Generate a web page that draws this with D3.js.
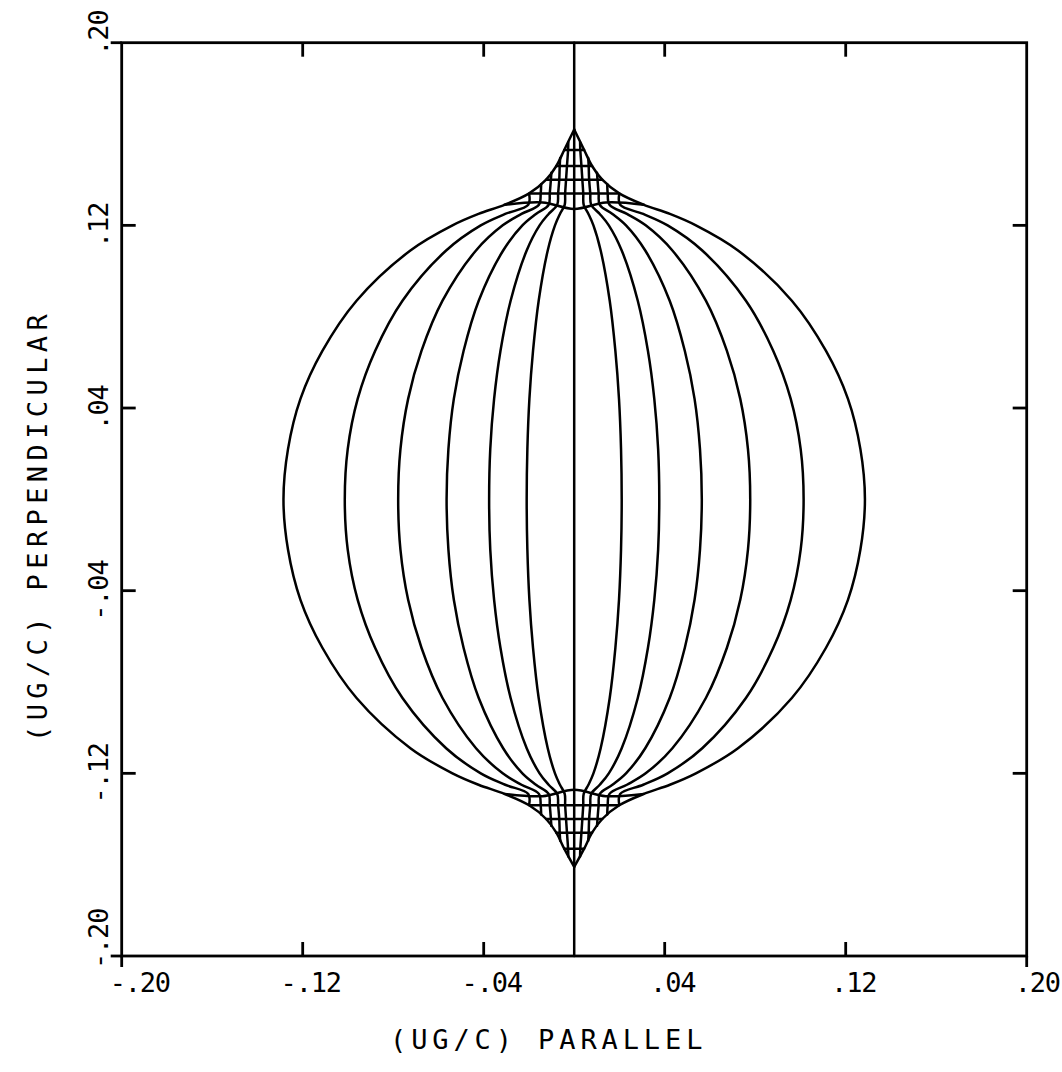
<!DOCTYPE html>
<html>
<head>
<meta charset="utf-8">
<script src="https://cdn.jsdelivr.net/npm/d3@7"></script>
<style>
  body { margin: 0; background: #fff; }
  text { font-family: "DejaVu Sans Mono", "Liberation Mono", monospace; fill: #000; }
</style>
</head>
<body>
<svg id="chart" width="1062" height="1072"></svg>
<script>
// Meridians of the group-velocity surface: perpendicular level (Y) and parallel
// half-width (X) along each one, top to bottom. Meridian 1 is the outer rim,
// which runs along the cusp edges up to the tips; the inner ones stop on the cusp edges.
const m1Y = [0.162, 0.153, 0.146, 0.140, 0.134, 0.129, 0.125, 0.120, 0.109, 0.087, 0.065, 0.044, 0.022, 0,
  -0.022, -0.044, -0.065, -0.087, -0.109, -0.120, -0.125, -0.129, -0.134, -0.140, -0.146, -0.153, -0.161];
const m1X = [0, .0044, .0079, .0124, .0199, .0308, .0423, .0538, .0724, .0962, .1113, .1210, .1265, .1285,
  .1265, .1210, .1113, .0962, .0724, .0538, .0423, .0308, .0199, .0124, .0079, .0044, 0];

const m2Y = [0.1336, 0.129, 0.125, 0.120, 0.109, 0.087, 0.065, 0.044, 0.022, 0,
  -0.022, -0.044, -0.065, -0.087, -0.109, -0.120, -0.125, -0.129, -0.1336];
const m2X = [.0199, .0203, .0305, .0413, .0566, .0759, .0880, .0957, .1001, .1014,
  .1001, .0957, .0880, .0759, .0566, .0413, .0305, .0203, .0199];

const m3Y = [0.138, 0.134, 0.129, 0.125, 0.120, 0.109, 0.087, 0.065, 0.044, 0.022, 0,
  -0.022, -0.044, -0.065, -0.087, -0.109, -0.120, -0.125, -0.129, -0.134, -0.138];
const m3X = [.0146, .0148, .0156, .0233, .0316, .0434, .0582, .0675, .0734, .0768, .0778,
  .0768, .0734, .0675, .0582, .0434, .0316, .0233, .0156, .0148, .0146];

const m4Y = [0.143, 0.140, 0.134, 0.129, 0.125, 0.120, 0.109, 0.087, 0.065, 0.044, 0.022, 0,
  -0.022, -0.044, -0.065, -0.087, -0.109, -0.120, -0.125, -0.129, -0.134, -0.140, -0.143];
const m4X = [.0101, .0103, .0108, .0113, .0169, .0229, .0314, .0422, .0489, .0532, .0556, .0564,
  .0556, .0532, .0489, .0422, .0314, .0229, .0169, .0113, .0108, .0103, .0101];

const m5Y = [0.1495, 0.146, 0.140, 0.134, 0.129, 0.125, 0.120, 0.109, 0.087, 0.065, 0.044, 0.022, 0,
  -0.022, -0.044, -0.065, -0.087, -0.109, -0.120, -0.125, -0.129, -0.134, -0.140, -0.146, -0.1495];
const m5X = [.0062, .0064, .0066, .0071, .0075, .0113, .0153, .0210, .0281, .0326, .0354, .0371, .0376,
  .0371, .0354, .0326, .0281, .0210, .0153, .0113, .0075, .0071, .0066, .0064, .0062];

const m6Y = [0.1564, 0.153, 0.146, 0.140, 0.134, 0.129, 0.125, 0.120, 0.109, 0.087, 0.065, 0.044, 0.022, 0,
  -0.022, -0.044, -0.065, -0.087, -0.109, -0.120, -0.125, -0.129, -0.134, -0.140, -0.146, -0.153, -0.1564];
const m6X = [.0026, .0027, .0032, .0036, .0040, .0042, .0063, .0085, .0117, .0157, .0182, .0198, .0207, .0210,
  .0207, .0198, .0182, .0157, .0117, .0085, .0063, .0042, .0040, .0036, .0032, .0027, .0026];

// Rings crossing the cusps: level and parallel half-width (edge to edge)
const ringLevels = [0.153, 0.146, 0.140, 0.134, -0.134, -0.140, -0.146, -0.153];
const ringHalfWidths = [.0044, .0079, .0124, .0199, .0199, .0124, .0079, .0044];

// Fold lines where the cusps join the main surface
const foldX = [-0.0308, -0.014, 0, 0.014, 0.0308];
const foldTopY = [0.1290, 0.1300, 0.1272, 0.1300, 0.1290];
const foldBottomY = [-0.1290, -0.1300, -0.1272, -0.1300, -0.1290];

// Axes
const tickValues = [-0.20, -0.12, -0.04, 0.04, 0.12, 0.20];
const tickLabels = ["-.20", "-.12", "-.04", ".04", ".12", ".20"];
const xTitle = "(UG/C) PARALLEL";
const yTitle = "(UG/C) PERPENDICULAR";

const svg = d3.select("#chart");
const x = d3.scaleLinear().domain([-0.2, 0.2]).range([121.7, 1026.7]);
const y = d3.scaleLinear().domain([-0.2, 0.2]).range([956, 42.7]);

const ink = "#000";
const smooth = d3.line().x(d => x(d[0])).y(d => y(d[1])).curve(d3.curveCatmullRom.alpha(0.5));
const plot = svg.append("g").attr("fill", "none").attr("stroke", ink)
  .attr("stroke-width", 2.5).attr("stroke-linejoin", "round").attr("stroke-linecap", "round");

// Meridians, drawn on both sides of the central line
[[m1X, m1Y], [m2X, m2Y], [m3X, m3Y], [m4X, m4Y], [m5X, m5Y], [m6X, m6Y]].forEach(([mx, my]) => {
  [1, -1].forEach(side => {
    plot.append("path").attr("d", smooth(my.map((v, i) => [side * mx[i], v])));
  });
});

// Cusp rings
ringLevels.forEach((v, i) => {
  plot.append("line")
    .attr("x1", x(-ringHalfWidths[i])).attr("x2", x(ringHalfWidths[i]))
    .attr("y1", y(v)).attr("y2", y(v));
});

// Fold lines
plot.append("path").attr("d", smooth(foldX.map((v, i) => [v, foldTopY[i]])));
plot.append("path").attr("d", smooth(foldX.map((v, i) => [v, foldBottomY[i]])));

// Central vertical line across the whole frame
plot.append("line").attr("x1", x(0)).attr("x2", x(0)).attr("y1", y(0.2)).attr("y2", y(-0.2));

// Frame
const frame = svg.append("g").attr("stroke", ink).attr("stroke-width", 2.8).attr("fill", "none");
frame.append("rect").attr("x", x(-0.2)).attr("y", y(0.2))
  .attr("width", x(0.2) - x(-0.2)).attr("height", y(-0.2) - y(0.2));

const inner = tickValues.filter(v => Math.abs(v) < 0.2);
const tickLen = 14, outLen = 11;
inner.forEach(v => {
  frame.append("line").attr("x1", x(v)).attr("x2", x(v)).attr("y1", y(0.2)).attr("y2", y(0.2) + tickLen);
  frame.append("line").attr("x1", x(v)).attr("x2", x(v)).attr("y1", y(-0.2)).attr("y2", y(-0.2) - tickLen);
  frame.append("line").attr("y1", y(v)).attr("y2", y(v)).attr("x1", x(-0.2)).attr("x2", x(-0.2) + tickLen);
  frame.append("line").attr("y1", y(v)).attr("y2", y(v)).attr("x1", x(0.2)).attr("x2", x(0.2) - tickLen);
});
// outward ticks at the ends of the labelled axes
[-0.2, 0.2].forEach(v => {
  frame.append("line").attr("x1", x(v)).attr("x2", x(v)).attr("y1", y(-0.2)).attr("y2", y(-0.2) + outLen);
  frame.append("line").attr("y1", y(v)).attr("y2", y(v)).attr("x1", x(-0.2)).attr("x2", x(-0.2) - outLen);
});

// Tick labels: inner ones centred near their tick, end ones starting just before it
const labelSize = 27;
tickValues.forEach((v, i) => {
  const end = Math.abs(v) >= 0.2;
  svg.append("text")
    .attr("x", end ? x(v) - 12 : x(v) + 8).attr("y", 992)
    .attr("text-anchor", end ? "start" : "middle")
    .attr("font-size", labelSize).attr("letter-spacing", -1.2).text(tickLabels[i]);
  svg.append("text")
    .attr("transform", `translate(108,${end ? y(v) + 13 : y(v)}) rotate(-90)`)
    .attr("text-anchor", end ? "start" : "middle")
    .attr("font-size", labelSize).attr("letter-spacing", -1.2).text(tickLabels[i]);
});

// Axis titles
svg.append("text").attr("x", 390).attr("y", 1049)
  .attr("font-size", 27).attr("letter-spacing", 4.9).text(xTitle);
svg.append("text").attr("transform", "translate(47,742) rotate(-90)")
  .attr("font-size", 27).attr("letter-spacing", 5.4).text(yTitle);
</script>
</body>
</html>
